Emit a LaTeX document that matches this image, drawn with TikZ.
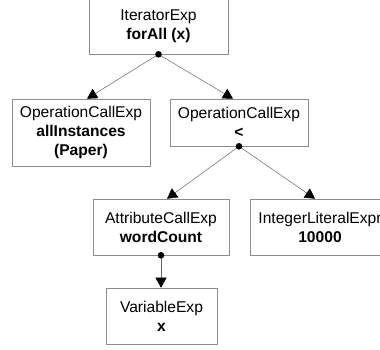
\documentclass[tikz,border=0pt]{standalone}
\usepackage{fontspec}
\setmainfont{Liberation Sans}
\usetikzlibrary{arrows.meta}

\tikzset{
  expbox/.style={draw=black!45,line width=0.6pt,align=center,inner sep=0pt,
    font=\fontsize{15.6}{19}\selectfont},
  link/.style={draw=black!60,line width=0.5pt,-{Triangle[width=11pt,length=10pt,black]}},
  knob/.style={fill=black}
}

\begin{document}
\begin{tikzpicture}[x=1pt,y=-1pt]
\useasboundingbox (0,0) rectangle (380,349);
\clip (0,0) rectangle (380,349);
\node[expbox,minimum width=139pt,minimum height=56pt] (iter) at (158.5,26) {IteratorExp\\\textbf{forAll (x)}};
\node[expbox,minimum width=138pt,minimum height=67pt] (opAll) at (81,132.5) {OperationCallExp\\\textbf{allInstances}\\\textbf{(Paper)}};
\node[expbox,minimum width=138pt,minimum height=47pt] (opLess) at (239,122.5) {OperationCallExp\\\textbf{<}};
\node[expbox,minimum width=136pt,minimum height=56pt] (attr) at (161,227) {AttributeCallExp\\\textbf{wordCount}};
\node[expbox,minimum width=140pt,minimum height=56pt] (intLit) at (320,227) {IntegerLiteralExpr\\\textbf{10000}};
\node[expbox,minimum width=111pt,minimum height=56pt] (var) at (161.5,316) {VariableExp\\\textbf{x}};
% tree edges
\draw[link] (iter.south) -- ([xshift=6pt]opAll.north);
\draw[link] (iter.south) -- ([xshift=-6pt]opLess.north);
\draw[link] (opLess.south) -- ([xshift=6pt]attr.north);
\draw[link] (opLess.south) -- ([xshift=-5pt]intLit.north);
\draw[link] (attr.south) -- (attr.south |- var.north);
% dots at the parents
\fill[knob] (iter.south) circle (3.3pt);
\fill[knob] (opLess.south) circle (3.3pt);
\fill[knob] (attr.south) circle (3.3pt);
\end{tikzpicture}
\end{document}
